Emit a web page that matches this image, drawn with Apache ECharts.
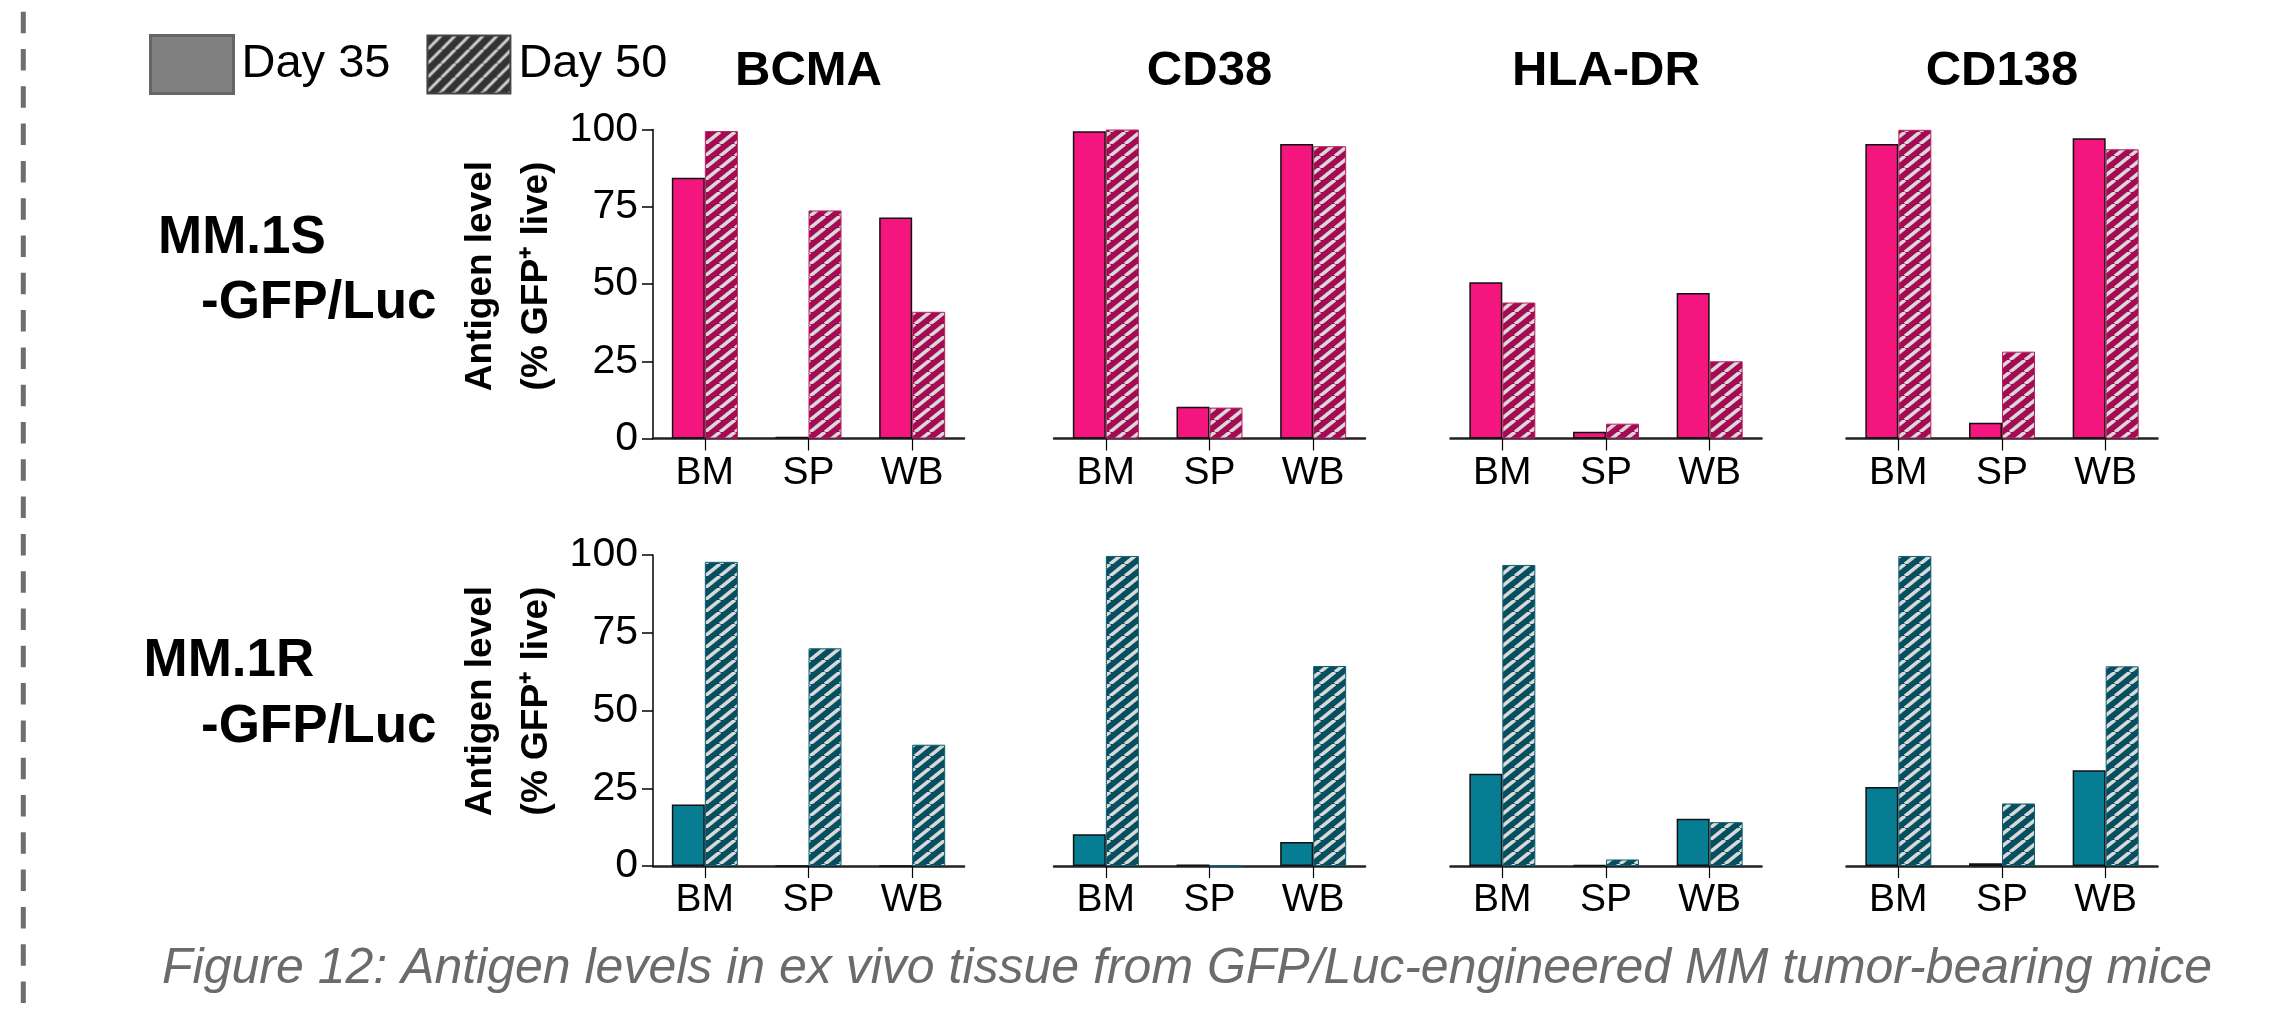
<!DOCTYPE html>
<html>
<head>
<meta charset="utf-8">
<script src="https://cdn.jsdelivr.net/npm/echarts@6/dist/echarts.min.js"></script>
<style>
  html, body { margin: 0; padding: 0; background: #fff; }
  #chart { width: 2270px; height: 1011px; }
</style>
</head>
<body>
<div id="chart"></div>
<script>
// ---------------- data ----------------
const categories = ['BM', 'SP', 'WB'];
const antigens = ['BCMA', 'CD38', 'HLA-DR', 'CD138'];
const rowLabels = [['MM.1S', '-GFP/Luc'], ['MM.1R', '-GFP/Luc']];
const seriesNames = ['Day 35', 'Day 50'];
const yTicks = [0, 25, 50, 75, 100];

// MM.1S-GFP/Luc (top row)
const s_BCMA_35  = [84.4, 0.6, 71.5];
const s_BCMA_50  = [99.5, 73.8, 41.0];
const s_CD38_35  = [99.4, 10.3, 95.3];
const s_CD38_50  = [100, 10.0, 94.6];
const s_HLA_35   = [50.6, 2.2, 47.1];
const s_HLA_50   = [44.0, 4.8, 25.0];
const s_CD138_35 = [95.3, 5.1, 97.2];
const s_CD138_50 = [99.9, 28.1, 93.6];

// MM.1R-GFP/Luc (bottom row)
const r_BCMA_35  = [19.8, 0, 0];
const r_BCMA_50  = [97.8, 70.0, 39.0];
const r_CD38_35  = [10.2, 0.5, 7.7];
const r_CD38_50  = [99.7, 0, 64.3];
const r_HLA_35   = [29.7, 0.3, 15.2];
const r_HLA_50   = [96.8, 2.1, 14.1];
const r_CD138_35 = [25.4, 0.9, 30.8];
const r_CD138_50 = [99.7, 20.1, 64.2];

const caption = 'Figure 12: Antigen levels in ex vivo tissue from GFP/Luc-engineered MM tumor-bearing mice';

const rowData = [
  [[s_BCMA_35, s_BCMA_50], [s_CD38_35, s_CD38_50], [s_HLA_35, s_HLA_50], [s_CD138_35, s_CD138_50]],
  [[r_BCMA_35, r_BCMA_50], [r_CD38_35, r_CD38_50], [r_HLA_35, r_HLA_50], [r_CD138_35, r_CD138_50]]
];

// ---------------- styling ----------------
const FONT = '"Liberation Sans", Arial, Helvetica, sans-serif';
const rowColors = [
  { solid: '#F5157F', dark: '#A50A55', border50: '#B8235F' },
  { solid: '#077D94', dark: '#054F60', border50: '#0E6072' }
];
const STRIPE = '#D9D9D9';

function makeHatch(bg, fg, w, h, lw) {
  const c = document.createElement('canvas');
  c.width = w; c.height = h;
  const ctx = c.getContext('2d');
  ctx.fillStyle = bg;
  ctx.fillRect(0, 0, w, h);
  ctx.strokeStyle = fg;
  ctx.lineWidth = lw;
  for (const dx of [-w, 0, w]) {
    ctx.beginPath();
    ctx.moveTo(dx, h);
    ctx.lineTo(dx + w, 0);
    ctx.stroke();
  }
  return { image: c, repeat: 'repeat' };
}

const rowTops = [129.5, 555];
const rowHeights = [309, 311];
const colLefts = [653, 1054, 1450.5, 1846.5];
const gridW = 311;

const grids = [], xAxes = [], yAxes = [], series = [];
let idx = 0;
for (let r = 0; r < 2; r++) {
  const hatch = makeHatch(rowColors[r].dark, STRIPE, 15, 12, 3.6);
  for (let c = 0; c < 4; c++) {
    grids.push({ left: colLefts[c], top: rowTops[r], width: gridW, height: rowHeights[r], containLabel: false });
    xAxes.push({
      type: 'category', gridIndex: idx, data: categories,
      axisLine: { show: true, lineStyle: { color: '#222', width: 2.5 } },
      axisTick: { show: true, alignWithLabel: true, length: 12, lineStyle: { color: '#000', width: 1.2 } },
      axisLabel: { fontSize: 39, color: '#000', margin: 15, fontFamily: FONT }
    });
    const first = c === 0;
    yAxes.push({
      type: 'value', gridIndex: idx, min: yTicks[0], max: yTicks[yTicks.length - 1], interval: 25,
      show: true,
      axisLine: { show: first, lineStyle: { color: '#000', width: 1.5 } },
      axisTick: { show: first, length: 11, lineStyle: { color: '#000', width: 1.5 } },
      axisLabel: { show: first, fontSize: 41, color: '#000', margin: 15, fontFamily: FONT },
      splitLine: { show: false }
    });
    const d = rowData[r][c];
    series.push({
      name: seriesNames[0], type: 'bar', xAxisIndex: idx, yAxisIndex: idx,
      data: d[0], barWidth: 33, barGap: '0%', silent: true,
      itemStyle: { color: rowColors[r].solid, borderColor: '#111', borderWidth: 1.5 }
    });
    series.push({
      name: seriesNames[1], type: 'bar', xAxisIndex: idx, yAxisIndex: idx,
      data: d[1], barWidth: 33, barGap: '0%', silent: true,
      itemStyle: { color: hatch, borderColor: rowColors[r].border50, borderWidth: 1 }
    });
    idx++;
  }
}

// ---------------- text / decorations ----------------
const graphics = [];
graphics.push({
  type: 'line', silent: true,
  shape: { x1: 23.3, y1: 11.7, x2: 23.3, y2: 1011 },
  style: { stroke: '#6e6e6e', lineWidth: 5, lineDash: [21.5, 15.8] }
});
for (let c = 0; c < 4; c++) {
  graphics.push({
    type: 'text', silent: true, x: colLefts[c] + gridW / 2, y: 71,
    style: { text: antigens[c], font: 'bold 49px ' + FONT, fill: '#000', textAlign: 'center', textVerticalAlign: 'middle' }
  });
}
const rowLabelPos = [
  [[158, 238], [201, 303]],
  [[143.5, 661], [201, 727]]
];
for (let r = 0; r < 2; r++) {
  for (let l = 0; l < 2; l++) {
    graphics.push({
      type: 'text', silent: true, x: rowLabelPos[r][l][0], y: rowLabelPos[r][l][1],
      style: { text: rowLabels[r][l], font: 'bold 53px ' + FONT, fill: '#000', textAlign: 'left', textVerticalAlign: 'middle' }
    });
  }
  const cy = r === 0 ? 276 : 701;
  graphics.push({
    type: 'text', silent: true, x: 481, y: cy, rotation: Math.PI / 2,
    style: { text: 'Antigen level', font: 'bold 37px ' + FONT, fill: '#000', textAlign: 'center', textVerticalAlign: 'middle' }
  });
  graphics.push({
    type: 'text', silent: true, x: 537, y: cy, rotation: Math.PI / 2,
    style: { text: '(% GFP\u207A live)', font: 'bold 37px ' + FONT, fill: '#000', textAlign: 'center', textVerticalAlign: 'middle' }
  });
}
graphics.push({
  type: 'text', silent: true, x: 1187, y: 969,
  style: { text: caption, font: 'italic 50px ' + FONT, fill: '#6b6b6b', textAlign: 'center', textVerticalAlign: 'middle' }
});

const legendHatch = makeHatch('#333333', '#D0D0D0', 14, 14, 3);

const chart = echarts.init(document.getElementById('chart'), null, { renderer: 'canvas' });
chart.setOption({
  animation: false,
  backgroundColor: '#ffffff',
  textStyle: { fontFamily: FONT },
  legend: {
    left: 149, top: 34, padding: 0, itemWidth: 83, itemHeight: 58, itemGap: 36,
    selectedMode: false,
    textStyle: { fontSize: 47, color: '#000', fontFamily: FONT, padding: [0, 0, 0, 3] },
    data: [
      { name: seriesNames[0], icon: 'rect', itemStyle: { color: '#808080', borderColor: '#666666', borderWidth: 3 } },
      { name: seriesNames[1], icon: 'rect', itemStyle: { color: legendHatch, borderColor: '#444444', borderWidth: 2 } }
    ]
  },
  grid: grids,
  xAxis: xAxes,
  yAxis: yAxes,
  series: series,
  graphic: graphics
});
</script>
</body>
</html>
